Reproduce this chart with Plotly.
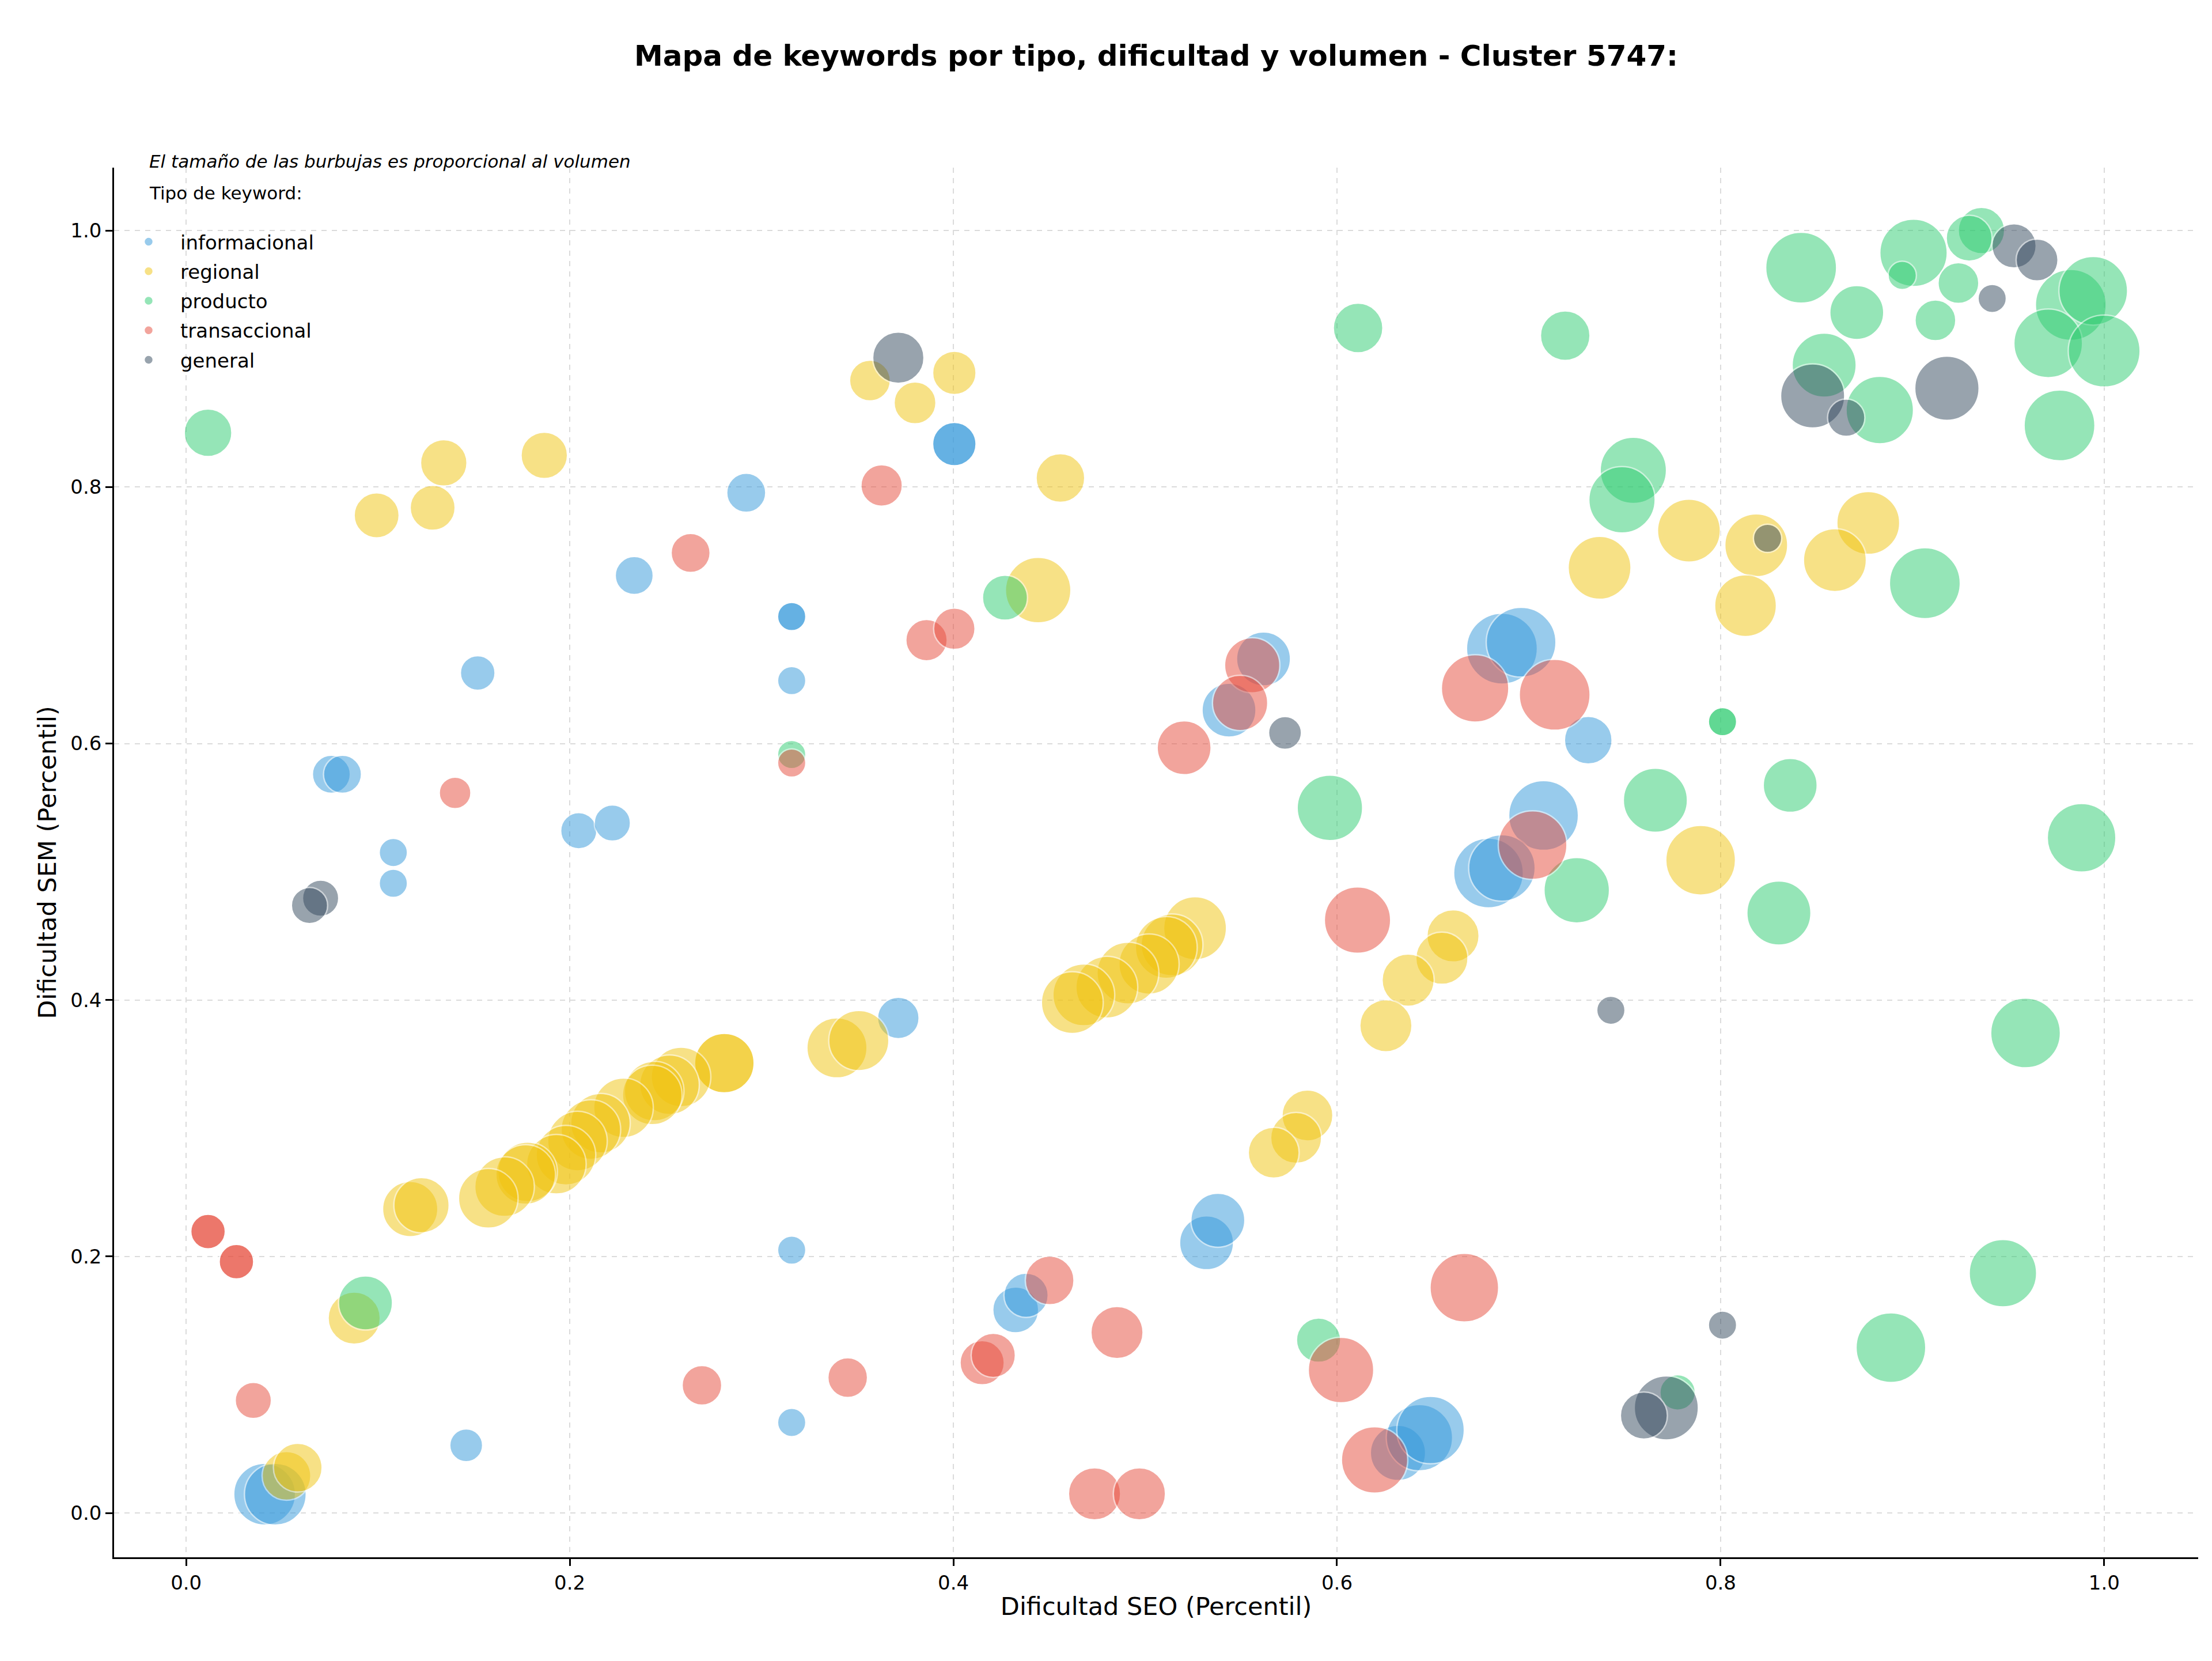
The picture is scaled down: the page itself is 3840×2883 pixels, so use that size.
import plotly.graph_objects as go

# ---------------- DATA ----------------
categorias = ["informacional", "regional", "producto", "transaccional", "general"]
colores = {"informacional": "#3498db", "regional": "#f1c40f", "producto": "#2ecc71",
           "transaccional": "#e74c3c", "general": "#34495e"}

info_seo = [0.152, 0.0757, 0.0815, 0.108, 0.108, 0.2047, 0.2222, 0.2336, 0.292, 0.3157,
            0.3157, 0.3157, 0.4005, 0.4005, 0.3713, 0.3157, 0.3157, 0.146, 0.0409, 0.0465,
            0.4325, 0.4379, 0.532, 0.5379, 0.5437, 0.5617, 0.686, 0.696, 0.731, 0.7077,
            0.679, 0.686, 0.6318, 0.643, 0.6488]
info_sem = [0.655, 0.576, 0.576, 0.515, 0.491, 0.532, 0.538, 0.731, 0.7955, 0.699,
            0.699, 0.649, 0.8335, 0.8335, 0.386, 0.205, 0.0706, 0.0528, 0.0147, 0.0147,
            0.1584, 0.1698, 0.2107, 0.2283, 0.626, 0.666, 0.674, 0.679, 0.6026, 0.5439,
            0.499, 0.503, 0.0469, 0.0587, 0.0647]
info_vol = [600, 720, 720, 400, 400, 655, 655, 720, 760, 400,
            400, 400, 940, 940, 860, 400, 400, 540, 1900, 1900,
            1050, 975, 1450, 1450, 1450, 1450, 2500, 2420, 1130, 2420,
            2420, 2200, 1520, 2190, 2265]

reg_seo = [0.3565, 0.4005, 0.380, 0.4558, 0.4442, 0.1343, 0.1867, 0.0993, 0.1285, 0.7369,
           0.7835, 0.8186, 0.877, 0.8596, 0.813, 0.7896, 0.6605, 0.6547, 0.6371, 0.6255,
           0.5846, 0.5787, 0.567, 0.526, 0.514, 0.511, 0.502, 0.491, 0.480, 0.468,
           0.462, 0.3393, 0.3507, 0.2806, 0.2806, 0.258, 0.252, 0.244, 0.243, 0.228,
           0.216, 0.211, 0.204, 0.198, 0.193, 0.178, 0.177, 0.166, 0.1575, 0.1168,
           0.1227, 0.0876, 0.0523, 0.0582]
reg_sem = [0.883, 0.889, 0.8656, 0.807, 0.7196, 0.8188, 0.8247, 0.7779, 0.7838, 0.737,
           0.766, 0.7546, 0.772, 0.743, 0.7075, 0.509, 0.450, 0.4326, 0.4155, 0.380,
           0.310, 0.2925, 0.281, 0.456, 0.443, 0.441, 0.428, 0.421, 0.410, 0.404,
           0.398, 0.3627, 0.3684, 0.3508, 0.3508, 0.340, 0.334, 0.329, 0.326, 0.316,
           0.304, 0.299, 0.290, 0.279, 0.272, 0.266, 0.264, 0.2545, 0.2454, 0.237,
           0.240, 0.152, 0.029, 0.0354]
reg_vol = [830, 940, 875, 1180, 2135, 1075, 1075, 1010, 1010, 1970,
           1970, 1970, 1970, 1970, 1900, 2420, 1355, 1355, 1355, 1355,
           1290, 1290, 1290, 1970, 1900, 1900, 1800, 1900, 1900, 1900,
           1900, 1800, 1800, 1765, 1765, 1765, 1765, 1765, 1765, 1765,
           1765, 1765, 1765, 1765, 1765, 1765, 1765, 1765, 1765, 1520,
           1520, 1355, 1180, 1180]

prod_seo = [0.0114, 0.611, 0.4269, 0.719, 0.7545, 0.7486, 0.9065, 0.842, 0.9006, 0.936,
            0.9296, 0.8947, 0.924, 0.871, 0.912, 0.9826, 0.9943, 0.9708, 1.000, 0.854,
            0.883, 0.9767, 0.801, 0.801, 0.766, 0.8363, 0.725, 0.8304, 0.9882, 0.959,
            0.5963, 0.3157, 0.0935, 0.5904, 0.7776, 0.8888, 0.9472]
prod_sem = [0.8423, 0.924, 0.7137, 0.918, 0.813, 0.790, 0.725, 0.971, 0.9826, 1.000,
            0.994, 0.965, 0.959, 0.936, 0.930, 0.942, 0.953, 0.912, 0.906, 0.895,
            0.860, 0.848, 0.617, 0.617, 0.5558, 0.5674, 0.4856, 0.4678, 0.5265, 0.3743,
            0.5498, 0.5914, 0.1638, 0.1348, 0.094, 0.129, 0.187]
prod_vol = [1130, 1225, 1010, 1225, 2190, 2190, 2500, 2500, 2265, 1075,
            1050, 400, 830, 1450, 830, 2500, 2345, 2345, 2570, 2045,
            2265, 2500, 400, 400, 2045, 1450, 2135, 2045, 2345, 2420,
            2135, 400, 1450, 975, 625, 2420, 2265]

trans_seo = [0.3626, 0.263, 0.1402, 0.3157, 0.386, 0.4005, 0.5558, 0.5495, 0.5203, 0.672,
             0.7135, 0.702, 0.6107, 0.0114, 0.0114, 0.0262, 0.0262, 0.035, 0.2689, 0.3449,
             0.415, 0.4208, 0.4502, 0.4853, 0.4736, 0.497, 0.6021, 0.6664, 0.6196]
trans_sem = [0.8012, 0.7486, 0.5615, 0.5848, 0.6806, 0.6895, 0.661, 0.6316, 0.5967, 0.643,
             0.638, 0.5208, 0.4623, 0.2195, 0.2195, 0.196, 0.196, 0.0878, 0.0996, 0.1056,
             0.1172, 0.123, 0.1814, 0.1408, 0.015, 0.015, 0.1115, 0.1757, 0.0414]
trans_vol = [855, 760, 500, 400, 855, 855, 1520, 1520, 1450, 2265,
             2500, 2345, 2190, 595, 595, 595, 595, 655, 785, 785,
             975, 975, 1180, 1355, 1355, 1355, 2135, 2345, 2190]

gen_seo = [0.3713, 0.0701, 0.0643, 0.5729, 0.7428, 0.801, 0.7717, 0.760, 0.848, 0.8655,
           0.918, 0.8245, 0.953, 0.965, 0.9416]
gen_sem = [0.9008, 0.4794, 0.4737, 0.6083, 0.392, 0.1465, 0.082, 0.076, 0.871, 0.854,
           0.877, 0.760, 0.988, 0.977, 0.947]
gen_vol = [1310, 655, 655, 540, 400, 400, 2045, 1100, 2045, 695,
           2060, 400, 975, 875, 400]

series = {
    "informacional": (info_seo, info_sem, info_vol),
    "regional": (reg_seo, reg_sem, reg_vol),
    "producto": (prod_seo, prod_sem, prod_vol),
    "transaccional": (trans_seo, trans_sem, trans_vol),
    "general": (gen_seo, gen_sem, gen_vol),
}

tick_vals = [0.0, 0.2, 0.4, 0.6, 0.8, 1.0]
tick_text = ["0.0", "0.2", "0.4", "0.6", "0.8", "1.0"]

# ---------------- FIGURE ----------------
# page has an 8px default body margin; size the figure so it fits the window
W, H = 3824, 2867
FONT = "DejaVu Sans"
all_vol = info_vol + reg_vol + prod_vol + trans_vol + gen_vol
D_MAX = 125.0
sizeref = 2.0 * max(all_vol) / (D_MAX ** 2)

fig = go.Figure()
for cat in categorias:
    xs, ys, vs = series[cat]
    fig.add_trace(go.Scatter(
        x=xs, y=ys, mode="markers", name=cat,
        legendgroup=cat,
        marker=dict(size=vs, sizemode="area", sizeref=sizeref,
                    color=colores[cat], opacity=0.5,
                    line=dict(color="white", width=2.5)),
    ))

axis_common = dict(
    showline=True, linecolor="black", linewidth=2.7, mirror=False,
    ticks="outside", ticklen=12, tickwidth=2.7, tickcolor="black",
    tickfont=dict(family=FONT, size=34, color="black"),
    showgrid=True, gridcolor="rgba(176,176,176,0.45)", gridwidth=2.2, griddash="dash",
    zeroline=False, tickvals=tick_vals, ticktext=tick_text,
)

fig.update_layout(
    width=W, height=H,
    paper_bgcolor="white", plot_bgcolor="white",
    margin=dict(l=190, r=16, t=283, b=172),
    font=dict(family=FONT, color="black"),
    title=dict(text="<b>Mapa de keywords por tipo, dificultad y volumen - Cluster 5747:</b>",
               x=0.5, xref="paper", xanchor="center",
               y=1 - 88 / H, yref="container", yanchor="middle",
               font=dict(family=FONT, size=50, color="black")),
    xaxis=dict(range=[-0.0376, 1.049],
               title=dict(text="Dificultad SEO (Percentil)", standoff=8,
                          font=dict(family=FONT, size=43, color="black")),
               **axis_common),
    yaxis=dict(range=[-0.0345, 1.049],
               title=dict(text="Dificultad SEM (Percentil)", standoff=12,
                          font=dict(family=FONT, size=43, color="black")),
               **axis_common),
    showlegend=True,
    legend=dict(x=(203 - 198) / 3618, xanchor="left",
                y=(2703 - 391) / 2412, yanchor="top",
                bgcolor="rgba(255,255,255,0)", borderwidth=0,
                font=dict(family=FONT, size=34, color="black"),
                itemwidth=100, itemsizing="trace",
                traceorder="grouped", tracegroupgap=4),
    annotations=[
        dict(text="<i>El tamaño de las burbujas es proporcional al volumen</i>",
             xref="paper", yref="paper", x=(257 - 198) / 3618, y=(2703 - 280) / 2412,
             xanchor="left", yanchor="middle", showarrow=False,
             font=dict(family=FONT, size=31, color="black")),
        dict(text="Tipo de keyword:",
             xref="paper", yref="paper", x=(257 - 198) / 3618, y=(2703 - 335) / 2412,
             xanchor="left", yanchor="middle", showarrow=False,
             font=dict(family=FONT, size=31, color="black")),
    ],
)

fig.write_html("out.html")
